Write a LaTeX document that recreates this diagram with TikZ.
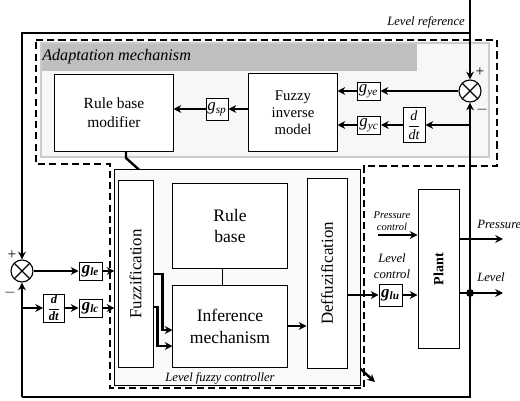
\documentclass[tikz,border=0pt]{standalone}
\usepackage{fontspec}
\setmainfont{Liberation Serif}
\usepackage{graphicx}
\usetikzlibrary{calc, positioning, arrows.meta}

\begin{document}
\begin{tikzpicture}[x=0.025cm, y=-0.025cm,
    blk/.style={draw, fill=white, line width=0.7pt, align=center, inner sep=1pt,
                font=\fontsize{11}{13.5}\selectfont},
    gain/.style={draw, fill=white, line width=0.7pt, inner sep=0.5pt,
                 minimum width=0.575cm, minimum height=0.45cm,
                 font=\fontsize{12}{12}\selectfont\itshape},
    bgain/.style={gain, font=\fontsize{12}{12}\selectfont\bfseries\itshape},
    sumj/.style={draw, circle, fill=white, line width=0.8pt, minimum size=0.55cm, inner sep=0pt,
                 path picture={\draw[line width=0.8pt]
                   (path picture bounding box.north west) -- (path picture bounding box.south east)
                   (path picture bounding box.south west) -- (path picture bounding box.north east);}},
    arr/.style={-{Stealth[length=5.5pt, width=5.5pt]}, line width=1.7pt},
    loop/.style={line width=1.9pt},
    lbl/.style={font=\fontsize{9}{11}\selectfont\itshape, align=center, inner sep=0pt},
    sgn/.style={font=\fontsize{11}{11}\selectfont, inner sep=0pt}
  ]
    \useasboundingbox (0,0) rectangle (520,401);

    % adaptation mechanism panel
    \fill[gray!6] (41,43) rectangle (489,157);
    \fill[black!25] (41,43) rectangle (417,71);
    \draw[gray!40, line width=1.2pt] (41,43) rectangle (489,157);
    \node[lbl, font=\fontsize{11.5}{13}\selectfont\itshape, anchor=west] (adtitle) at (42,57) {Adaptation mechanism};

    \node[blk, minimum width=2.95cm, minimum height=1.9cm] (rbm) at (114,113) {Rule base\\modifier};
    \node[gain, minimum width=0.55cm, minimum height=0.55cm] (gsp) at (217,109) {g\textsubscript{sp}};
    \node[blk, font=\fontsize{10.5}{12}\selectfont, minimum width=2.2cm, minimum height=1.925cm] (fim) at (293,112.5) {Fuzzy\\inverse\\model};
    \node[gain] (gye) at (368.5,91) {g\textsubscript{ye}};
    \node[gain] (gyc) at (369,125) {g\textsubscript{yc}};
    \node[blk, font=\fontsize{10}{12}\selectfont, inner sep=0.5pt, minimum width=0.55cm, minimum height=0.875cm] (dtop) at (414,125) {$\displaystyle\frac{\textit{d}}{\textit{dt}}$};
    \node[sumj] (stop) at (470,91) {};

    \coordinate (ref) at (470,0);
    \coordinate (rsplit) at (470,33);
    \coordinate (lcorner) at (22,33);
    \coordinate (bl) at (22,397);
    \coordinate (br) at (470,397);
    \coordinate (ybr) at (470,125);
    \coordinate (ydot) at (470,293);
    \coordinate (lsplit) at (22,308);
    \coordinate (kink) at (126,158);
    \coordinate (adj) at (375,382);

    % adaptation link behind the controller
    \draw[arr] ([xshift=0.3cm]rbm.south) -- (kink) -- (adj);

    % level fuzzy controller
    \node[draw, fill=gray!4, line width=0.7pt, minimum width=6.125cm, minimum height=5.375cm] (lfc) at (237.5,277.5) {};
    \node[lbl, anchor=base] (lfclbl) at (220,381) {Level fuzzy controller};
    \node[blk, font=\fontsize{12}{14}\selectfont, minimum width=0.875cm, minimum height=4.65cm] (fuzz) at (135.5,274) {\rotatebox{90}{Fuzzification}};
    \node[blk, font=\fontsize{12.5}{15.5}\selectfont, minimum width=2.85cm, minimum height=2.1cm] (rb) at (230,226) {Rule\\base};
    \node[blk, font=\fontsize{12.5}{15.5}\selectfont, minimum width=2.85cm, minimum height=2.05cm] (inf) at (230,326) {Inference\\mechanism};
    \node[blk, font=\fontsize{12}{14}\selectfont, minimum width=1cm, minimum height=4.725cm] (deff) at (327,273.5) {\rotatebox{90}{Deffuzification}};

    \draw[line width=0.7pt] ([xshift=-0.2cm]rb.south) -- ([xshift=-0.2cm]rb.south |- inf.north);
    \draw[arr] (fuzz.east) -- ++(9,0) |- ([yshift=-0.1cm]inf.west);
    \draw[arr] ([yshift=-0.825cm]fuzz.east) -- ++(4,0) |- ([yshift=-0.5cm]inf.west);
    \draw[arr] (inf.east) -- (inf.east -| deff.west);

    % left input side
    \node[sumj] (sleft) at (22,271) {};
    \node[blk, font=\fontsize{9}{11}\selectfont\bfseries, inner sep=0.5pt, minimum width=0.525cm, minimum height=0.7cm] (dleft) at (54,308) {$\displaystyle\frac{\textbf{\textit{d}}}{\textbf{\textit{dt}}}$};
    \node[bgain] (gle) at (90.5,271) {g\textsubscript{le}};
    \node[bgain] (glc) at (90.5,308) {g\textsubscript{lc}};

    \draw[arr] (sleft.east) -- (gle.west);
    \draw[arr] (gle) -- (gle -| lfc.west);
    \draw[arr] (lsplit) -- (dleft);
    \draw[arr] (dleft) -- (glc);
    \draw[arr] (glc) -- (glc -| lfc.west);

    % plant side
    \node[bgain, minimum height=0.55cm] (glu) at (390.5,295) {g\textsubscript{lu}};
    \node[blk, font=\fontsize{10}{12}\selectfont\bfseries, minimum width=1.025cm, minimum height=3.95cm] (plant) at (438.5,269) {\rotatebox{90}{Plant}};
    \coordinate (pcin) at (378,235);
    \coordinate (pout) at (503,239);
    \coordinate (lout) at (503,293);

    \draw[arr] (deff.east |- glu) -- (glu);
    \draw[arr] (glu) -- (glu -| plant.west);
    \draw[arr] (pcin) -- (pcin -| plant.west);
    \draw[arr] (plant.east |- pout) -- (pout);
    \draw[arr] (plant.east |- lout) -- (lout);
    \fill (ydot) circle (2.8pt);

    \node[lbl, font=\fontsize{7.5}{9}\selectfont\itshape] (pclbl) at (392,221) {Pressure\\control};
    \node[lbl] (lclbl) at (392,266) {Level\\control};
    \node[lbl, anchor=west] (plbl) at (477,224) {Pressure};
    \node[lbl, anchor=west] (llbl) at (477,277) {Level};

    % feedback and reference lines
    \draw[arr, loop] (bl) -- (br) -- (stop.south);
    \draw[arr, loop] (bl) -- (sleft.south);
    \draw[arr, loop] (ref) -- (stop.north);
    \draw[arr, loop] (rsplit) -- (lcorner) -- (sleft.north);
    \draw[arr] (ybr) -- (dtop);
    \draw[arr] (dtop) -- (gyc);
    \draw[arr] (gyc) -- (gyc -| fim.east);
    \draw[arr] (stop.west) -- (gye);
    \draw[arr] (gye) -- (gye -| fim.east);
    \draw[arr] (fim.west |- gsp) -- (gsp);
    \draw[arr] (gsp) -- (gsp -| rbm.east);

    \node[lbl, anchor=east] (lref) at (465,22) {Level reference};
    \node[sgn] (ptop) at (480,72) {+};
    \node[sgn] (mtop) at (482,110) {$-$};
    \node[sgn] (pleft) at (12,255) {+};
    \node[sgn] (mleft) at (10,293) {$-$};

    % adaptive controller boundary
    \draw[line width=1.4pt, dash pattern=on 5pt off 3pt]
      (36,40) -- (497,40) -- (497,166) -- (364,166) -- (364,388) -- (110,388) -- (110,164) -- (36,164) -- cycle;
  \end{tikzpicture}
\end{document}
